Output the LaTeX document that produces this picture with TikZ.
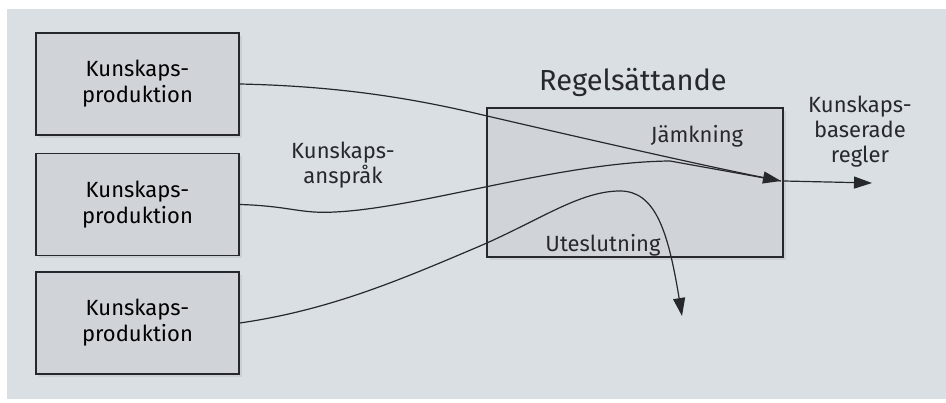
\documentclass[tikz,border=0pt]{standalone}
\usepackage{fontspec}
\setmainfont{Fira Sans}
\usetikzlibrary{arrows.meta,shadows}
\definecolor{paper}{HTML}{DADFE4}
\definecolor{boxfill}{HTML}{D0D4D9}
\definecolor{shade}{HTML}{C2C6CB}
\definecolor{ink}{HTML}{26282C}
\tikzset{
  prodbox/.style={draw=ink, line width=1.6pt, fill=boxfill,
    minimum width=203pt, minimum height=102pt, inner sep=0pt,
    align=center, font=\fontsize{22}{26}\selectfont,
    drop shadow={shadow xshift=3pt, shadow yshift=-3pt, fill=shade, opacity=.6}},
  rulebox/.style={prodbox, minimum width=296pt, minimum height=149pt},
  lbl/.style={text=ink, align=center, font=\fontsize{22}{25}\selectfont},
  flow/.style={draw=ink, line width=1.2pt},
  tip/.style={-{Triangle[length=18pt,width=12pt]}}
}
\begin{document}
\begin{tikzpicture}[x=1pt,y=-1pt]
\useasboundingbox (0,0) rectangle (946,403);
\fill[white] (0,0) rectangle (946,403);
\fill[paper] (7,9) rectangle (946,399);

% knowledge producers
\node[prodbox] (b1) at (137.5,84)  {Kunskaps-\\produktion};
\node[prodbox] (b2) at (137.5,204.5) {Kunskaps-\\produktion};
\node[prodbox] (b3) at (137.5,323) {Kunskaps-\\produktion};

% rule setting
\node[rulebox] (rs) at (635,182.5) {};
\node[lbl, font=\fontsize{29}{32}\selectfont] (rst) at (633,82) {Regelsättande};
\node[lbl] (jam) at (697,136) {Jämkning};
\node[lbl] (ute) at (603,245) {Uteslutning};
\node[lbl] (claim) at (343,165) {Kunskaps-\\anspråk};
\node[lbl] (res) at (860,132) {Kunskaps-\\baserade\\regler};

\coordinate (merge) at (781,181);
\coordinate (out) at (872,183);
\coordinate (excl) at (682,316);

% claims flowing into rule setting
\draw[flow, tip] (b1.east) .. controls (330,86) and (400,96) .. (470,112)
  .. controls (560,133) and (700,165) .. (merge);
\draw[flow] (b2.east) .. controls (290,206) and (300,214) .. (335,212)
  .. controls (420,208) and (560,162) .. (670,161) -- (merge);
\draw[flow, tip] (b3.east) .. controls (330,310) and (400,280) .. (480,246)
  .. controls (540,220) and (580,191) .. (620,191)
  .. controls (655,191) and (668,230) .. (excl);
\draw[flow, tip] (rs.east |- merge) -- (out);
\end{tikzpicture}
\end{document}
